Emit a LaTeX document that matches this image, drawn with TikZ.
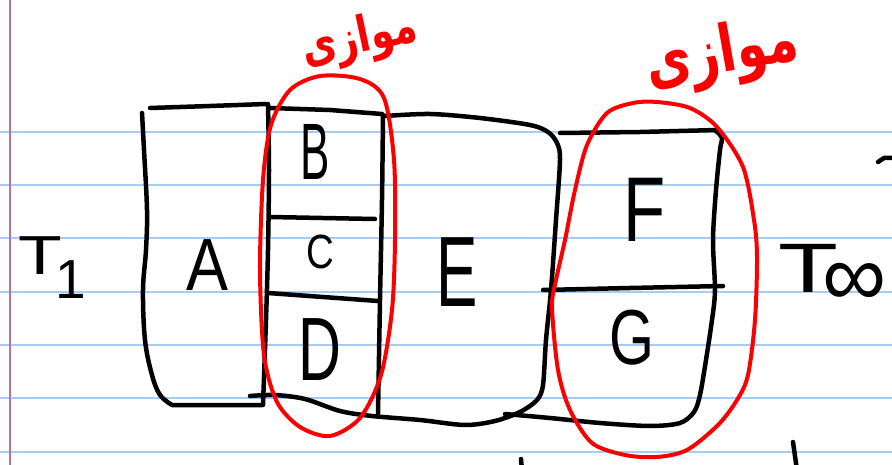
\documentclass[tikz,border=0pt]{standalone}
\usepackage{fontspec}
\setmainfont{Liberation Sans}
\newfontfamily\arabicfont[Script=Arabic]{DejaVu Sans}
\TeXXeTstate=1
\definecolor{ruleblue}{RGB}{166,204,245}
\definecolor{marginpink}{RGB}{196,112,150}
\definecolor{inkred}{RGB}{250,0,0}
\tikzset{
 ruled/.style={draw=ruleblue, line width=2pt},
 marginline/.style={draw=marginpink, line width=2pt},
 ink/.style={draw=black, line width=4.5pt, line cap=round, line join=round},
 redink/.style={draw=inkred, line width=4pt, line cap=round, line join=round},
 lettr/.style={inner sep=0pt, text=black},
 redtext/.style={inner sep=0pt, text=inkred},
}
\begin{document}
\begin{tikzpicture}[x=1pt,y=-1pt]
\fill[white] (0,0) rectangle (892,465);
\useasboundingbox (0,0) rectangle (892,465);
% ruled paper
\foreach \yy in {132,185,238,292,345,398,452} {\draw[ruled] (0,\yy) -- (892,\yy);}
\draw[marginline] (10,0) -- (10,465);
% Box A
\draw[ink] (150,108) -- (210,106) -- (266,104);
\draw[ink] plot[smooth,tension=.6] coordinates {(142,113) (144,150) (147,210) (146,250) (143,290) (145,340) (152,375) (160,395) (172,405)} -- (262,405);
\draw[ink] plot[smooth] coordinates {(268,104) (269,170) (268,250) (266,320) (263,405)};
% Box B C D
\draw[ink] (270,108) -- (330,110) -- (382,114);
\draw[ink] plot[smooth] coordinates {(383,115) (382,200) (380,300) (378,414)};
\draw[ink] (270,217) -- (375,219);
\draw[ink] (268,293) -- (378,301);
% bottom line + box E
\draw[ink] plot[smooth] coordinates {(250,396) (275,395) (305,399) (340,411) (372,416) (420,420) (465,425) (495,421) (520,412) (537,400) (543,385) (546,340) (551,290) (556,220) (560,160) (557,143) (548,132) (530,125) (480,118) (430,114) (385,116)};
% Box F G
\draw[ink] (560,133) -- (640,132) -- (718,130);
\draw[ink] plot[smooth] coordinates {(505,414) (550,418) (600,423) (650,426) (680,423) (694,412) (700,395) (706,360) (712,320) (715,290) (713,240) (716,190) (720,150) (722,138) (716,131)};
\draw[ink] (543,290) -- (630,288) -- (723,286);
% stray marks
\draw[ink] (878,162) -- (884,158) -- (892,158);
\draw[ink] (521,459) -- (522,470);
\draw[ink] (793,442) -- (797,470);
% red loops
\draw[redink] plot[smooth cycle] coordinates {(320,76) (360,79) (384,98) (394,160) (395,240) (392,310) (381,375) (360,418) (330,436) (300,427) (277,402) (264,355) (260,270) (263,180) (271,125) (290,90)};
\draw[redink] plot[smooth cycle] coordinates {(657,102) (690,108) (717,127) (743,167) (754,220) (757,257) (755,320) (748,375) (737,400) (718,425) (687,450) (657,457) (625,455) (592,443) (570,410) (558,370) (552,307) (556,280) (565,240) (575,190) (587,145) (607,113) (633,103)};
% labels
\node[lettr, font=\fontsize{74}{74}\selectfont, xscale=.85] (lA) at (207,265) {A};
\node[lettr, font=\fontsize{80}{80}\selectfont, xscale=.55] (lB) at (315,152) {B};
\node[lettr, font=\fontsize{48}{48}\selectfont, xscale=.8] (lC) at (320,252) {C};
\node[lettr, font=\fontsize{90}{90}\selectfont, xscale=.66] (lD) at (320,350) {D};
\node[lettr, font=\fontsize{100}{100}\selectfont, xscale=.62] (lE) at (457,272) {E};
\node[lettr, font=\fontsize{92}{92}\selectfont, xscale=.75] (lF) at (645,210) {F};
\node[lettr, font=\fontsize{78}{78}\selectfont, xscale=.74] (lG) at (632,338) {G};
\node[lettr, font=\fontsize{55}{55}\selectfont, xscale=1.3] (lT1) at (40,256) {T};
\node[lettr, font=\fontsize{55}{55}\selectfont] (lone) at (71,280) {1};
\node[lettr, font=\fontsize{70}{70}\selectfont, xscale=1.4] (lT2) at (808,268) {T};
\node[lettr, font=\fontsize{90}{90}\selectfont] (linf) at (855,285) {∞};
\node[redtext, font=\arabicfont\bfseries\fontsize{38}{38}\selectfont, rotate=12, yscale=1.3] (par1) at (360,40) {\beginR موازی\endR};
\node[redtext, font=\arabicfont\bfseries\fontsize{50}{50}\selectfont, rotate=10, yscale=1.3] (par2) at (722,56) {\beginR موازی\endR};
\end{tikzpicture}
\end{document}
